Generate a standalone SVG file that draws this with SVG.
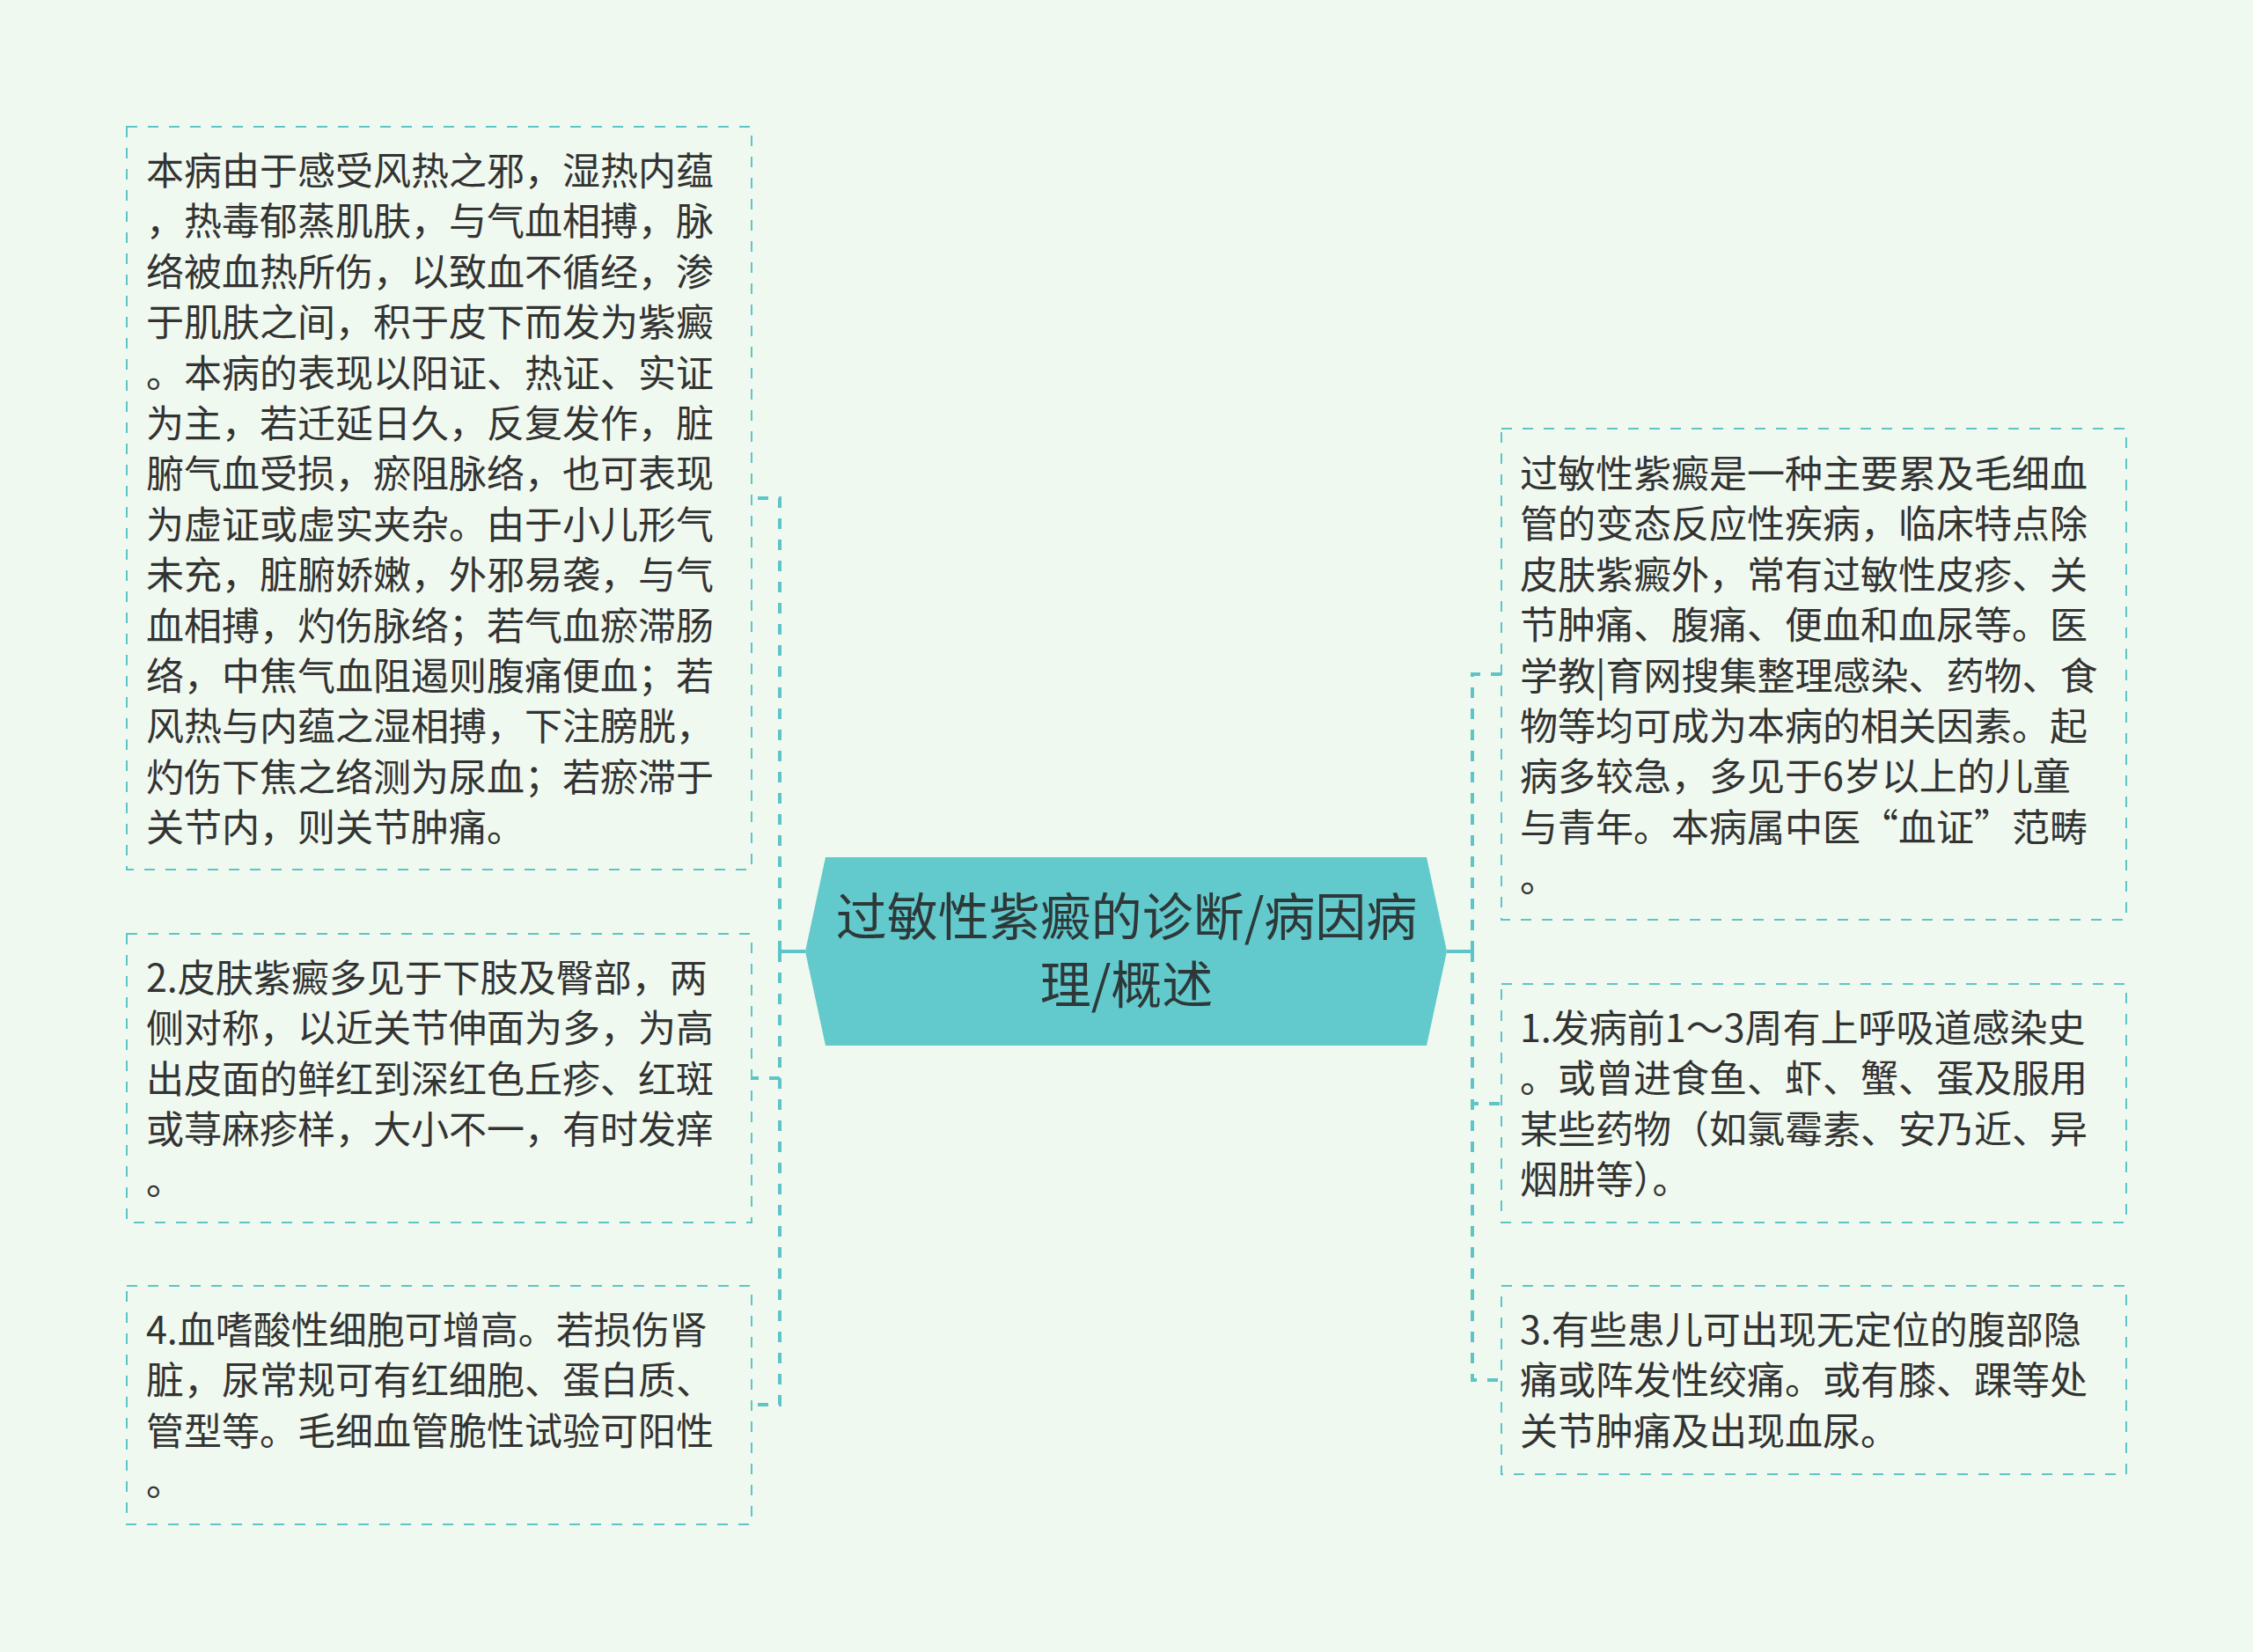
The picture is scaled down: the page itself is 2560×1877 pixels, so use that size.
<svg xmlns="http://www.w3.org/2000/svg" width="2560" height="1877" viewBox="0 0 2560 1877">
<style>
.bg{fill:#F0F9EF}
.box{fill:none;stroke:#5EC4C8;stroke-width:2;stroke-dasharray:12 12}
.t{font-family:"Noto Sans CJK SC","Noto Sans",sans-serif;font-size:43px;fill:#333333}
.ct{font-family:"Noto Sans CJK SC","Noto Sans",sans-serif;font-size:58px;fill:#2E3838;text-anchor:middle}
.con{fill:none;stroke:#5EC4C8;stroke-width:4;stroke-dasharray:12 12}
.solid{fill:none;stroke:#5EC4C8;stroke-width:4}
</style>
<rect class="bg" x="0" y="0" width="2560" height="1877"/>
<g id="connectors">
<path class="solid" d="M915,1081 H886"/>
<path class="con" d="M886,1081 V566 H854"/>
<path class="con" d="M886,1081 V1225 H854"/>
<path class="con" d="M886,1081 V1596 H854"/>
<path class="solid" d="M1644,1081 H1673"/>
<path class="con" d="M1673,1081 V766 H1706"/>
<path class="con" d="M1673,1081 V1254 H1706"/>
<path class="con" d="M1673,1081 V1568 H1706"/>
</g>
<g id="root">
<polygon points="938,974 1621,974 1644,1081 1621,1188 938,1188 915,1081" fill="#62C9CC"/>
<text class="ct" x="1280" y="1063">过敏性紫癜的诊断/病因病</text>
<text class="ct" x="1280" y="1140">理/概述</text>
</g>
<g id="left1">
<rect class="box" x="144" y="144" width="710" height="844"/>
<text class="t">
<tspan x="166" y="210">本病由于感受风热之邪，湿热内蕴</tspan>
<tspan x="166" y="267.4">，热毒郁蒸肌肤，与气血相搏，脉</tspan>
<tspan x="166" y="324.8">络被血热所伤，以致血不循经，渗</tspan>
<tspan x="166" y="382.2">于肌肤之间，积于皮下而发为紫癜</tspan>
<tspan x="166" y="439.6">。本病的表现以阳证、热证、实证</tspan>
<tspan x="166" y="497">为主，若迁延日久，反复发作，脏</tspan>
<tspan x="166" y="554.4">腑气血受损，瘀阻脉络，也可表现</tspan>
<tspan x="166" y="611.8">为虚证或虚实夹杂。由于小儿形气</tspan>
<tspan x="166" y="669.2">未充，脏腑娇嫩，外邪易袭，与气</tspan>
<tspan x="166" y="726.6">血相搏，灼伤脉络；若气血瘀滞肠</tspan>
<tspan x="166" y="784">络，中焦气血阻遏则腹痛便血；若</tspan>
<tspan x="166" y="841.4">风热与内蕴之湿相搏，下注膀胱，</tspan>
<tspan x="166" y="898.8">灼伤下焦之络测为尿血；若瘀滞于</tspan>
<tspan x="166" y="956.2">关节内，则关节肿痛。</tspan>
</text>
</g>
<g id="left2">
<rect class="box" x="144" y="1061" width="710" height="328"/>
<text class="t">
<tspan x="166" y="1127">2.皮肤紫癜多见于下肢及臀部，两</tspan>
<tspan x="166" y="1184.4">侧对称，以近关节伸面为多，为高</tspan>
<tspan x="166" y="1241.8">出皮面的鲜红到深红色丘疹、红斑</tspan>
<tspan x="166" y="1299.2">或荨麻疹样，大小不一，有时发痒</tspan>
<tspan x="166" y="1356.6">。</tspan>
</text>
</g>
<g id="left3">
<rect class="box" x="144" y="1461" width="710" height="271"/>
<text class="t">
<tspan x="166" y="1527">4.血嗜酸性细胞可增高。若损伤肾</tspan>
<tspan x="166" y="1584.4">脏，尿常规可有红细胞、蛋白质、</tspan>
<tspan x="166" y="1641.8">管型等。毛细血管脆性试验可阳性</tspan>
<tspan x="166" y="1699.2">。</tspan>
</text>
</g>
<g id="right1">
<rect class="box" x="1706" y="487" width="710" height="558"/>
<text class="t">
<tspan x="1727" y="554">过敏性紫癜是一种主要累及毛细血</tspan>
<tspan x="1727" y="611.4">管的变态反应性疾病，临床特点除</tspan>
<tspan x="1727" y="668.8">皮肤紫癜外，常有过敏性皮疹、关</tspan>
<tspan x="1727" y="726.2">节肿痛、腹痛、便血和血尿等。医</tspan>
<tspan x="1727" y="783.6">学教|育网搜集整理感染、药物、食</tspan>
<tspan x="1727" y="841">物等均可成为本病的相关因素。起</tspan>
<tspan x="1727" y="898.4">病多较急，多见于6岁以上的儿童</tspan>
<tspan x="1727" y="955.8">与青年。本病属中医“血证”范畴</tspan>
<tspan x="1727" y="1013.2">。</tspan>
</text>
</g>
<g id="right2">
<rect class="box" x="1706" y="1118" width="710" height="271"/>
<text class="t">
<tspan x="1727" y="1184">1.发病前1～3周有上呼吸道感染史</tspan>
<tspan x="1727" y="1241.4">。或曾进食鱼、虾、蟹、蛋及服用</tspan>
<tspan x="1727" y="1298.8">某些药物（如氯霉素、安乃近、异</tspan>
<tspan x="1727" y="1356.2">烟肼等）。</tspan>
</text>
</g>
<g id="right3">
<rect class="box" x="1706" y="1461" width="710" height="214"/>
<text class="t">
<tspan x="1727" y="1527">3.有些患儿可出现无定位的腹部隐</tspan>
<tspan x="1727" y="1584.4">痛或阵发性绞痛。或有膝、踝等处</tspan>
<tspan x="1727" y="1641.8">关节肿痛及出现血尿。</tspan>
</text>
</g>
</svg>
